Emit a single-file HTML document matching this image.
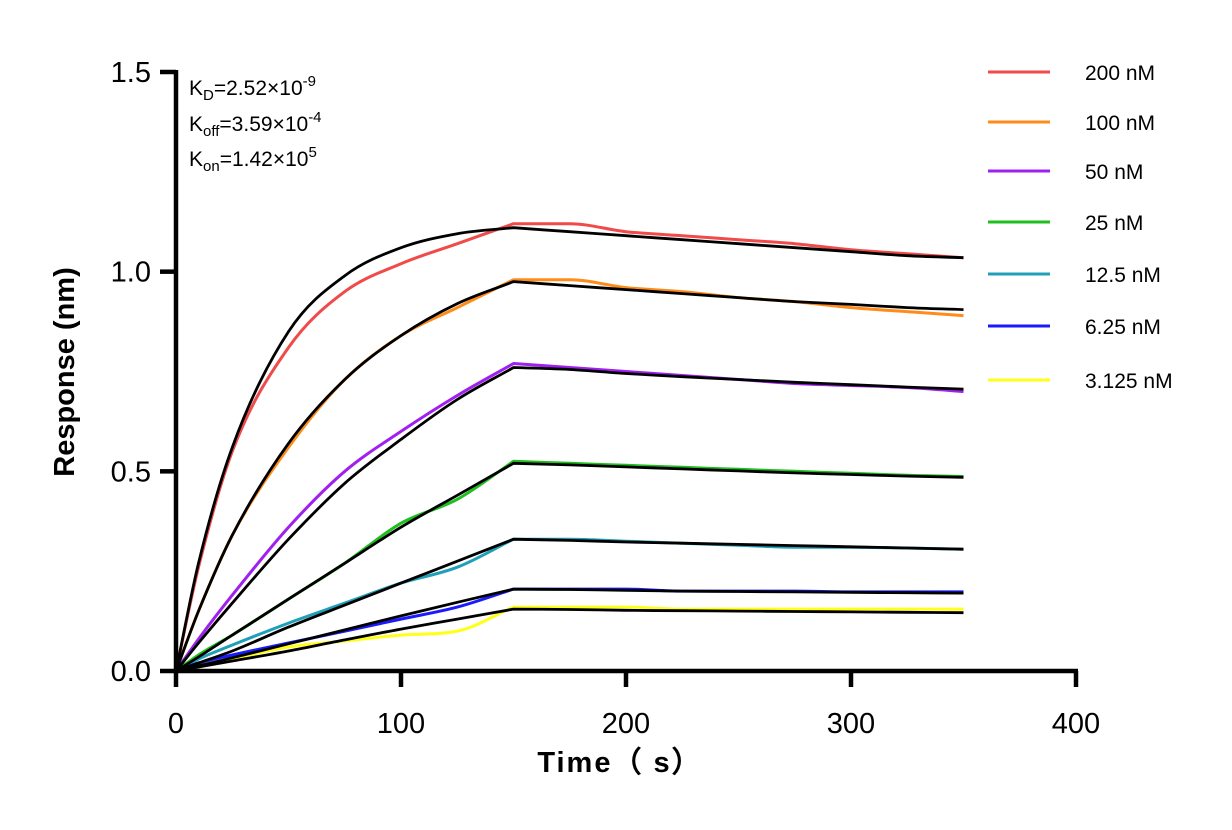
<!DOCTYPE html>
<html><head><meta charset="utf-8"><style>
body{margin:0;background:#fff}
svg text{font-family:"Liberation Sans",Arial,sans-serif}
</style></head><body>
<svg id="chart" width="1232" height="825" viewBox="0 0 1232 825" xmlns="http://www.w3.org/2000/svg">
<g id="plot"></g>
</svg>
<script>
const times=[0,10,25,50,75,100,125,150,175,200,225,250,275,300,325,350];
const labels=["200 nM","100 nM","50 nM","25 nM","12.5 nM","6.25 nM","3.125 nM"];
const colors=["#f04a4a","#ff8c1a","#a020f0","#1fbf1f","#1fa0b8","#1a1aff","#ffff1a"];
const fit200=[0,0.27,0.56,0.85,0.99,1.06,1.095,1.11,1.10,1.09,1.08,1.07,1.06,1.05,1.04,1.035];
const fit100=[0,0.15,0.34,0.57,0.73,0.84,0.92,0.975,0.965,0.955,0.945,0.935,0.925,0.918,0.91,0.905];
const fit50=[0,0.07,0.17,0.33,0.47,0.58,0.68,0.76,0.755,0.745,0.737,0.73,0.723,0.717,0.711,0.706];
const fit25=[0,0.035,0.09,0.18,0.27,0.36,0.44,0.52,0.516,0.511,0.506,0.501,0.496,0.492,0.488,0.485];
const fit12=[0,0.02,0.05,0.11,0.165,0.22,0.275,0.33,0.327,0.323,0.32,0.317,0.314,0.311,0.308,0.305];
const fit6=[0,0.013,0.033,0.068,0.103,0.138,0.172,0.205,0.204,0.202,0.2,0.199,0.198,0.197,0.196,0.195];
const fit3=[0,0.01,0.025,0.05,0.078,0.105,0.13,0.155,0.154,0.152,0.151,0.15,0.149,0.148,0.147,0.146];
const dat200=[0,0.26,0.55,0.81,0.95,1.02,1.07,1.12,1.12,1.10,1.09,1.08,1.07,1.055,1.045,1.035];
const dat100=[0,0.15,0.34,0.56,0.73,0.84,0.91,0.98,0.98,0.96,0.95,0.935,0.925,0.91,0.9,0.89];
const dat50=[0,0.08,0.19,0.36,0.50,0.60,0.69,0.77,0.76,0.75,0.74,0.73,0.72,0.715,0.71,0.70];
const dat25=[0,0.04,0.09,0.18,0.27,0.37,0.43,0.525,0.52,0.515,0.51,0.505,0.50,0.495,0.49,0.487];
const dat12=[0,0.03,0.065,0.12,0.17,0.22,0.26,0.33,0.33,0.325,0.32,0.315,0.31,0.31,0.308,0.305];
const dat6=[0,0.02,0.04,0.07,0.1,0.13,0.16,0.205,0.205,0.205,0.2,0.2,0.2,0.198,0.198,0.198];
const dat3=[0,0.012,0.03,0.06,0.075,0.09,0.1,0.16,0.16,0.16,0.155,0.155,0.155,0.155,0.155,0.155];
const xTicks=[0,100,200,300,400];
const yTicks=[0,0.5,1.0,1.5];
const yTickLabels=["0.0","0.5","1.0","1.5"];
const fits=[fit200,fit100,fit50,fit25,fit12,fit6,fit3];
const dats=[dat200,dat100,dat50,dat25,dat12,dat6,dat3];

const X0=176,X1=1076,Y0=671,Y1=72;
function sx(t){return X0+(t-0)/(400-0)*(X1-X0);}
function sy(v){return Y0-(v-0)/(1.5-0)*(Y0-Y1);}
const NS="http://www.w3.org/2000/svg";
const g=document.getElementById('plot');
function mk(tag,attrs){const e=document.createElementNS(NS,tag);for(const k in attrs)e.setAttribute(k,attrs[k]);g.appendChild(e);return e;}
// monotone cubic (Fritsch-Carlson), split at t=150
function segPath(ts,vs){
  const n=ts.length,xs=ts.map(sx),ys=vs.map(sy);
  const d=[],m=new Array(n);
  for(let i=0;i<n-1;i++)d.push((ys[i+1]-ys[i])/(xs[i+1]-xs[i]));
  m[0]=d[0];m[n-1]=d[n-2];
  for(let i=1;i<n-1;i++){m[i]=(d[i-1]*d[i]<=0)?0:(d[i-1]+d[i])/2;}
  for(let i=0;i<n-1;i++){
    if(d[i]===0){m[i]=0;m[i+1]=0;continue;}
    const a=m[i]/d[i],b=m[i+1]/d[i],h=a*a+b*b;
    if(h>9){const tt=3/Math.sqrt(h);m[i]=tt*a*d[i];m[i+1]=tt*b*d[i];}
  }
  let p="M"+xs[0].toFixed(1)+","+ys[0].toFixed(1);
  for(let i=0;i<n-1;i++){
    const h=(xs[i+1]-xs[i])/3;
    p+=" C"+(xs[i]+h).toFixed(1)+","+(ys[i]+m[i]*h).toFixed(1)+" "+(xs[i+1]-h).toFixed(1)+","+(ys[i+1]-m[i+1]*h).toFixed(1)+" "+xs[i+1].toFixed(1)+","+ys[i+1].toFixed(1);
  }
  return p;
}
function pathFor(arr){
  const k=times.indexOf(150);
  const a=segPath(times.slice(0,k+1),arr.slice(0,k+1));
  const b=segPath(times.slice(k),arr.slice(k));
  return a+" "+b.replace(/^M[^ ]+/,"");
}
for(let s=0;s<dats.length;s++){
  const p=mk('path',{d:pathFor(dats[s]),fill:'none',stroke:colors[s],'stroke-width':3,'stroke-linejoin':'round'});
  
  
}
for(let s=0;s<fits.length;s++){
  const p=mk('path',{d:pathFor(fits[s]),fill:'none',stroke:'#000','stroke-width':2.8,'stroke-linejoin':'round'});
  
  
}
const ya=mk('line',{x1:X0,y1:Y1-2,x2:X0,y2:Y0+2,stroke:'#000','stroke-width':4.5});


const xa=mk('line',{x1:X0-2,y1:Y0,x2:X1+2,y2:Y0,stroke:'#000','stroke-width':4.5});


xTicks.forEach(t=>{
  const l=mk('line',{x1:sx(t),y1:Y0,x2:sx(t),y2:Y0+16,stroke:'#000','stroke-width':4.5});
  
  
  const tx=mk('text',{x:sx(t),y:Y0+62,'font-size':29,'text-anchor':'middle'});tx.textContent=t;
  
  
});
yTicks.forEach((v,i)=>{
  const l=mk('line',{x1:X0-16,y1:sy(v),x2:X0,y2:sy(v),stroke:'#000','stroke-width':4.5});
  
  
  const tx=mk('text',{x:X0-25,y:sy(v)+10,'font-size':29,'text-anchor':'end'});tx.textContent=yTickLabels[i];
  
  
});
const xt=mk('text',{x:620,y:772,'font-size':29,'font-weight':'bold','text-anchor':'middle','letter-spacing':'2','font-family':'"Liberation Sans","Noto Sans CJK SC",sans-serif'});
xt.textContent='Time（ s）';


const yt=mk('text',{x:0,y:0,'font-size':29,'font-weight':'bold','text-anchor':'middle',transform:'translate(74,372) rotate(-90)'});
yt.textContent='Response (nm)';


const legY=[72,122,171,222,274,326,380];
labels.forEach((lab,i)=>{
  const l=mk('line',{x1:988,y1:legY[i],x2:1050,y2:legY[i],stroke:colors[i],'stroke-width':3});
  
  
  const tx=mk('text',{x:1085,y:legY[i]+8,'font-size':21});tx.textContent=lab;
  
  
});
const ann=[["K","D","=2.52×10","-9",95],["K","off","=3.59×10","-4",131],["K","on","=1.42×10","5",166]];
ann.forEach(a=>{
  const t=mk('text',{x:189,y:a[4],'font-size':21});
  
  
  t.innerHTML=a[0]+'<tspan font-size="15" dy="5">'+a[1]+'</tspan><tspan dy="-5">'+a[2]+'</tspan><tspan font-size="15" dy="-9">'+a[3]+'</tspan>';
});
</script>
</body></html>
